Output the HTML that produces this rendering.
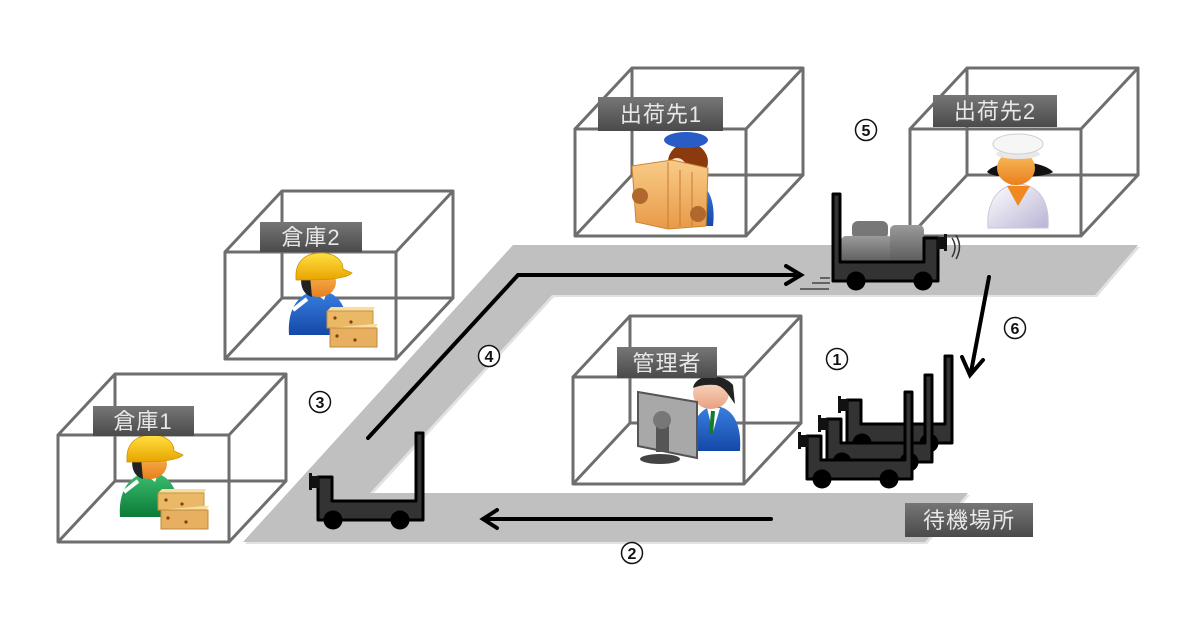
<!DOCTYPE html>
<html><head><meta charset="utf-8">
<style>
html,body{margin:0;padding:0;background:#fff;}
svg{display:block;}
text{font-family:"Liberation Sans","Noto Sans CJK JP",sans-serif;}
</style></head><body>
<svg width="1200" height="630" viewBox="0 0 1200 630" xmlns="http://www.w3.org/2000/svg">
<defs>
 <linearGradient id="lg" x1="0" y1="0" x2="0" y2="1"><stop offset="0" stop-color="#767676"/><stop offset="1" stop-color="#4a4a4a"/></linearGradient>
 <linearGradient id="green" x1="0" y1="0" x2="0" y2="1"><stop offset="0" stop-color="#3cc070"/><stop offset="1" stop-color="#0c7a38"/></linearGradient>
 <linearGradient id="blue" x1="0" y1="0" x2="0" y2="1"><stop offset="0" stop-color="#3a80e0"/><stop offset="1" stop-color="#1448a8"/></linearGradient>
 <linearGradient id="skin" x1="0" y1="0" x2="0" y2="1"><stop offset="0" stop-color="#fbbf60"/><stop offset="1" stop-color="#e8801c"/></linearGradient>
 <linearGradient id="skin2" x1="0" y1="0" x2="0" y2="1"><stop offset="0" stop-color="#fbe0cc"/><stop offset="1" stop-color="#e8a080"/></linearGradient>
 <linearGradient id="yellow" x1="0" y1="0" x2="0" y2="1"><stop offset="0" stop-color="#ffe040"/><stop offset="1" stop-color="#e8a400"/></linearGradient>
 <linearGradient id="cargo" x1="0" y1="0" x2="0" y2="1"><stop offset="0" stop-color="#9a9a9a"/><stop offset="1" stop-color="#555"/></linearGradient>
 <linearGradient id="chef" x1="0" y1="0" x2="1" y2="1"><stop offset="0" stop-color="#ffffff"/><stop offset="1" stop-color="#b8b4d4"/></linearGradient>
 <linearGradient id="paper" x1="0" y1="0" x2="0" y2="1"><stop offset="0" stop-color="#f8cc88"/><stop offset="1" stop-color="#e89a48"/></linearGradient>
 <g id="cart">
  <polygon points="318,477 332,477 332,501 416,501 416,433 423,433 423,520 318,520" fill="#333" stroke="#000" stroke-width="3" stroke-linejoin="round"/>
  <rect x="310" y="476" width="9" height="12" fill="#111"/>
  <rect x="309" y="473" width="3" height="17" fill="#111"/>
  <circle cx="333" cy="520" r="9.5" fill="#000"/>
  <circle cx="400" cy="520" r="9.5" fill="#000"/>
 </g>
 <g id="box" fill="none" stroke="#6e6e6e" stroke-width="3" stroke-linejoin="round">
  <rect x="57" y="-61" width="171" height="107"/>
  <rect x="0" y="0" width="171" height="107"/>
  <line x1="0" y1="0" x2="57" y2="-61"/>
  <line x1="171" y1="0" x2="228" y2="-61"/>
  <line x1="0" y1="107" x2="57" y2="46"/>
  <line x1="171" y1="107" x2="228" y2="46"/>
 </g>
 <g id="boxes">
  <path d="M158,493 L162,489 L206,489 L204,493 Z" fill="#f8dca0"/>
  <rect x="158" y="493" width="46" height="17" fill="#eab968" stroke="#c8923c" stroke-width="1"/>
  <path d="M160,510 L206,510 L209,506 L204,506 Z" fill="#f8dca0"/>
  <rect x="161" y="510" width="47" height="19" fill="#e6b060" stroke="#c08838" stroke-width="1"/>
  <circle cx="166" cy="500" r="1.6" fill="#8a3a10"/><circle cx="182" cy="504" r="1.6" fill="#8a3a10"/>
  <circle cx="168" cy="518" r="1.6" fill="#8a3a10"/><circle cx="186" cy="522" r="1.6" fill="#8a3a10"/>
 </g>
 <g id="head">
  <ellipse cx="150" cy="464" rx="17" ry="15" fill="url(#skin)"/>
  <path d="M133,456 C130,468 135,477 143,479 L141,458 Z" fill="#222"/>
  <path d="M127,460 C126,441 139,435 152,435 C167,435 174,443 174,451 L183,455 C176,462 150,462 127,462 Z" fill="url(#yellow)" stroke="#d09000" stroke-width="0.8"/>
 </g>
</defs>
<rect width="1200" height="630" fill="#fff"/>

<!-- road -->
<polygon points="245,544 515,247 1140,247 1097,297 554,297 372,495 970,495 927,544" fill="#e2e2e2"/>
<polygon points="243,542 513,245 1138,245 1095,295 552,295 370,493 968,493 925,542" fill="#c0c0c0"/>

<!-- boxes -->
<use href="#box" transform="translate(58,435)"/>
<use href="#box" transform="translate(225,252)"/>
<use href="#box" transform="translate(575,129)"/>
<use href="#box" transform="translate(910,129)"/>
<use href="#box" transform="translate(573,377)"/>

<!-- arrows -->
<g fill="none" stroke="#000" stroke-width="4" stroke-linecap="round" stroke-linejoin="miter">
 <polyline points="368,438 518,275 798,275"/>
 <polyline points="786,266 801,275 786,284"/>
 <line x1="771" y1="519" x2="485" y2="519"/>
 <polyline points="497,510 483,519 497,528"/>
 <line x1="989" y1="277" x2="971" y2="372"/>
 <polyline points="962,357 970,375 983,360"/>
</g>
<!-- speed lines -->
<g stroke="#444" stroke-width="1.5">
 <line x1="820" y1="278" x2="830" y2="278"/>
 <line x1="812" y1="283" x2="830" y2="283"/>
 <line x1="800" y1="289" x2="829" y2="289"/>
</g>
<!-- sound waves -->
<g fill="none" stroke="#333" stroke-width="1.5">
 <path d="M952,238 Q958,247 952,257"/>
 <path d="M956,235 Q963,247 956,259"/>
</g>

<!-- cargo on top-right cart -->
<rect x="852" y="221" width="36" height="18" rx="6" fill="#777"/>
<rect x="841" y="236" width="52" height="30" rx="5" fill="url(#cargo)"/>
<rect x="890" y="225" width="34" height="41" rx="5" fill="url(#cargo)"/>

<!-- carts -->
<use href="#cart" transform="translate(1256,-239) scale(-1,1)"/>
<use href="#cart"/>
<use href="#cart" transform="translate(529,-77)"/>
<use href="#cart" transform="translate(509,-58)"/>
<use href="#cart" transform="translate(489,-41)"/>

<!-- worker 1 (green) -->
<path d="M120,517 C118,490 130,474 150,472 C170,474 180,490 178,517 Z" fill="url(#green)"/>
<path d="M124,492 L138,481" stroke="#fff" stroke-width="4"/>
<path d="M145,474 L158,474 L155,482 Z" fill="#fff"/>
<use href="#head"/>
<use href="#boxes"/>

<!-- worker 2 (blue) -->
<g transform="translate(169,-182)">
 <path d="M120,517 C118,490 130,474 150,472 C170,474 180,490 178,517 Z" fill="url(#blue)"/>
 <path d="M124,492 L138,481" stroke="#fff" stroke-width="4"/>
 <path d="M145,474 L158,474 L155,482 Z" fill="#fff"/>
 <use href="#head"/>
 <use href="#boxes"/>
</g>

<!-- reader (出荷先1) -->
<path d="M655,226 C652,196 670,180 690,180 C708,182 716,200 713,226 Z" fill="url(#blue)"/>
<ellipse cx="688" cy="162" rx="20" ry="19" fill="#8a3a0c"/>
<ellipse cx="686" cy="140" rx="22" ry="8" fill="#2a5cc8"/>
<ellipse cx="677" cy="170" rx="10" ry="12" fill="#fbe2cc"/>
<polygon points="632,166 672,160 708,168 706,226 668,229 636,222" fill="url(#paper)" stroke="#cc8434" stroke-width="1"/>
<g stroke="#c87a30" stroke-width="1"><line x1="668" y1="162" x2="668" y2="228"/><line x1="680" y1="170" x2="680" y2="226"/><line x1="692" y1="172" x2="692" y2="226"/></g>
<circle cx="640" cy="196" r="8" fill="#b0682c"/>
<circle cx="698" cy="214" r="8" fill="#b0682c"/>

<!-- chef (出荷先2) -->
<path d="M988,228 C986,200 1000,185 1018,184 C1038,185 1050,200 1048,228 Z" fill="url(#chef)" stroke="#c8c6dc" stroke-width="1"/>
<polygon points="1007,186 1030,186 1018,206" fill="#f08a20"/>
<path d="M987,172 C995,160 1040,158 1053,172 C1045,178 995,180 987,172 Z" fill="#111"/>
<ellipse cx="1016" cy="168" rx="19" ry="17" fill="url(#skin)"/>
<ellipse cx="1018" cy="154" rx="22" ry="5" fill="#e8e8e8"/>
<ellipse cx="1018" cy="144" rx="25" ry="10" fill="#f6f6f6" stroke="#cfcfcf" stroke-width="1"/>

<!-- manager (管理者) -->
<path d="M691,451 C689,423 700,407 715,406 C732,407 742,423 740,451 Z" fill="url(#blue)"/>
<polygon points="707,408 720,408 713,432" fill="#fff"/>
<line x1="713" y1="411" x2="711" y2="434" stroke="#157a2a" stroke-width="4"/>
<ellipse cx="711" cy="393" rx="18" ry="16" fill="url(#skin2)"/>
<path d="M693,388 C695,374 722,372 733,385 L735,404 C729,396 725,387 716,385 C706,384 698,386 693,388 Z" fill="#222"/>
<polygon points="638,392 697,402 697,458 638,446" fill="#a8a8a8" stroke="#555" stroke-width="2"/>
<rect x="656" y="420" width="13" height="32" fill="#555"/>
<circle cx="662" cy="420" r="9" fill="#777"/>
<ellipse cx="660" cy="459" rx="20" ry="5" fill="#444"/>

<!-- labels -->
<g font-size="22" fill="#e8e8e8" text-anchor="middle" letter-spacing="1">
 <rect x="93" y="406" width="101" height="30" fill="url(#lg)"/>
 <text x="143" y="429">倉庫1</text>
 <rect x="260" y="222" width="102" height="30" fill="url(#lg)"/>
 <text x="311" y="245">倉庫2</text>
 <rect x="598" y="97" width="125" height="34" fill="url(#lg)"/>
 <text x="661" y="122">出荷先1</text>
 <rect x="933" y="95" width="124" height="32" fill="url(#lg)"/>
 <text x="995" y="119">出荷先2</text>
 <rect x="617" y="347" width="100" height="31" fill="url(#lg)"/>
 <text x="667" y="371">管理者</text>
 <rect x="905" y="503" width="128" height="34" fill="url(#lg)"/>
 <text x="969" y="528">待機場所</text>
</g>

<!-- circled numbers -->
<g font-size="16" font-weight="bold" text-anchor="middle" fill="#111">
 <circle cx="837" cy="359" r="10.5" fill="#fff" stroke="#111" stroke-width="1.5"/><text x="837" y="365">1</text>
 <circle cx="632" cy="553" r="10.5" fill="#fff" stroke="#111" stroke-width="1.5"/><text x="632" y="559">2</text>
 <circle cx="320" cy="402" r="10.5" fill="#fff" stroke="#111" stroke-width="1.5"/><text x="320" y="408">3</text>
 <circle cx="489" cy="356" r="10.5" fill="#fff" stroke="#111" stroke-width="1.5"/><text x="489" y="362">4</text>
 <circle cx="866" cy="130" r="10.5" fill="#fff" stroke="#111" stroke-width="1.5"/><text x="866" y="136">5</text>
 <circle cx="1015" cy="328" r="10.5" fill="#fff" stroke="#111" stroke-width="1.5"/><text x="1015" y="334">6</text>
</g>
</svg>
</body></html>
